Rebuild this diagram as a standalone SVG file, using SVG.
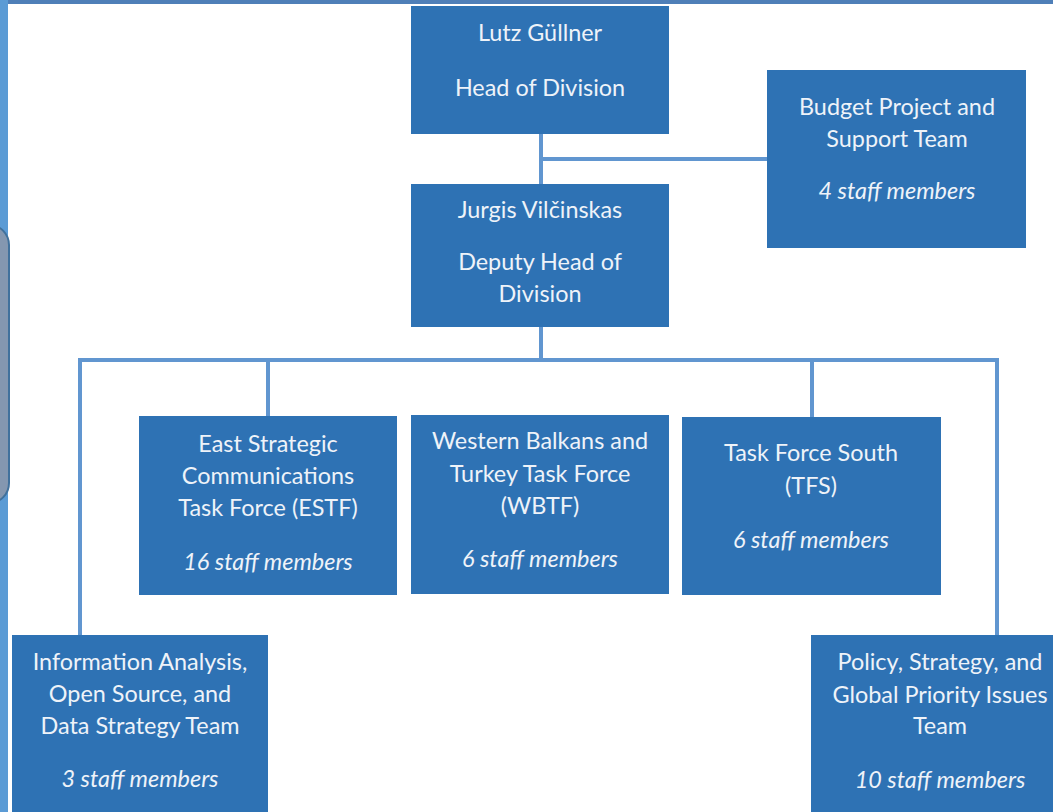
<svg xmlns="http://www.w3.org/2000/svg" width="1053" height="812" viewBox="0 0 1053 812">
<style>
.box{fill:#2e72b4;}
.t{font-family:Lato,"Open Sans","Liberation Sans",sans-serif;font-size:23.4px;fill:#eef3f9;text-anchor:middle;}
.i{font-style:italic;}
.c{stroke:#6196d0;stroke-width:4;fill:none;}
</style>
<rect x="0" y="0" width="1053" height="812" fill="#ffffff"/>
<rect x="0" y="0" width="1053" height="4" fill="#4f7fb8"/>
<rect x="0" y="0" width="8" height="812" fill="#5b9bd5"/>
<rect x="-30" y="225" width="39" height="278" rx="20" fill="#8497b0" stroke="#41719c" stroke-width="2"/>
<g id="connectors">
<path class="c" d="M541 134V184M541 159H767M541 327V360M78 360H999M80 360V635M268 360V416M812 360V417M997 360V635"/>
</g>
<g id="head">
<rect class="box" x="411" y="6" width="258" height="128"/>
<text class="t" x="540" y="41">Lutz Güllner</text>
<text class="t" x="540" y="96">Head of Division</text>
</g>
<g id="budget">
<rect class="box" x="767" y="70" width="259" height="178"/>
<text class="t" x="897" y="115">Budget Project and</text>
<text class="t" x="897" y="147">Support Team</text>
<text class="t i" x="897" y="199">4 staff members</text>
</g>
<g id="deputy">
<rect class="box" x="411" y="184" width="258" height="143"/>
<text class="t" x="540" y="218">Jurgis Vilčinskas</text>
<text class="t" x="540" y="270">Deputy Head of</text>
<text class="t" x="540" y="302">Division</text>
</g>
<g id="estf">
<rect class="box" x="139" y="416" width="258" height="179"/>
<text class="t" x="268" y="452">East Strategic</text>
<text class="t" x="268" y="484">Communications</text>
<text class="t" x="268" y="516">Task Force (ESTF)</text>
<text class="t i" x="268" y="570">16 staff members</text>
</g>
<g id="wbtf">
<rect class="box" x="411" y="415" width="258" height="179"/>
<text class="t" x="540" y="449">Western Balkans and</text>
<text class="t" x="540" y="482">Turkey Task Force</text>
<text class="t" x="540" y="514">(WBTF)</text>
<text class="t i" x="540" y="567">6 staff members</text>
</g>
<g id="tfs">
<rect class="box" x="682" y="417" width="259" height="178"/>
<text class="t" x="811" y="461">Task Force South</text>
<text class="t" x="811" y="494">(TFS)</text>
<text class="t i" x="811" y="548">6 staff members</text>
</g>
<g id="info">
<rect class="box" x="12" y="635" width="256" height="190"/>
<text class="t" x="140" y="670">Information Analysis,</text>
<text class="t" x="140" y="702">Open Source, and</text>
<text class="t" x="140" y="734">Data Strategy Team</text>
<text class="t i" x="140" y="787">3 staff members</text>
</g>
<g id="policy">
<rect class="box" x="811" y="635" width="258" height="190"/>
<text class="t" x="940" y="670">Policy, Strategy, and</text>
<text class="t" x="940" y="703">Global Priority Issues</text>
<text class="t" x="940" y="734">Team</text>
<text class="t i" x="940" y="788">10 staff members</text>
</g>
</svg>
